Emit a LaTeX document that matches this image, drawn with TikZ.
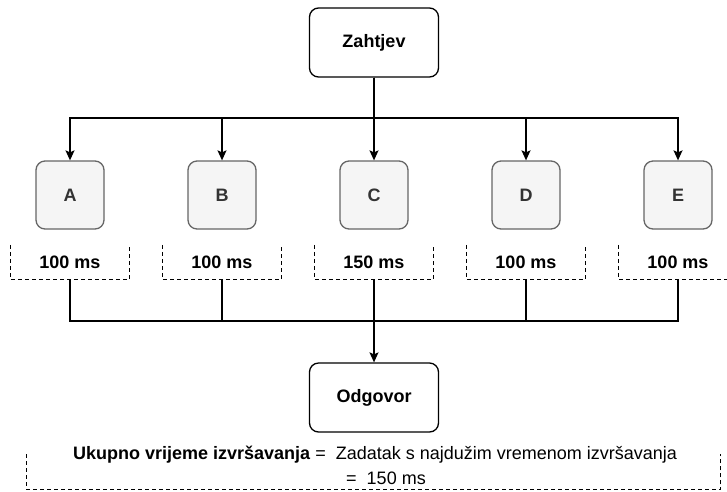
\documentclass[tikz,border=0pt]{standalone}
\usepackage{fontspec}
\setmainfont{Liberation Sans}
\usetikzlibrary{arrows.meta,positioning}
\definecolor{taskfill}{HTML}{F5F5F5}
\definecolor{taskline}{HTML}{666666}
\definecolor{tasktext}{HTML}{333333}

\begin{document}
\begin{tikzpicture}[x=1pt,y=-1pt,line width=1.3pt,
  endbox/.style={draw,rounded corners=9pt,minimum width=129pt,minimum height=69pt,
    font=\fontsize{18}{22}\selectfont\bfseries},
  taskbox/.style={draw=taskline,fill=taskfill,text=tasktext,rounded corners=9pt,
    minimum width=68pt,minimum height=68pt,font=\fontsize{18}{22}\selectfont\bfseries},
  timebox/.style={minimum width=118pt,minimum height=33pt,font=\fontsize{18}{22}\selectfont\bfseries},
  arrow/.style={-{Stealth[length=10pt,width=9pt,inset=2pt]}},
  frame/.style={line width=1.2pt,dash pattern=on 4pt off 3pt}]
\useasboundingbox (0,0) rectangle (727,491);

\node[endbox] (zahtjev) at (374,42.5) {Zahtjev};

% tasks, their times and the fan-out from the request
\foreach \lab/\ms [count=\i from 0] in {A/100,B/100,C/150,D/100,E/100} {
  \node[taskbox] (\lab) at (70+152*\i,195) {\lab};
  \node[timebox] (time\lab) at (70+152*\i,262) {\ms\ ms};
  \draw[frame] (time\lab.north west) -- (time\lab.south west) -- (time\lab.south east) -- (time\lab.north east);
  \coordinate (split\lab) at (70+152*\i,118);
  \draw[arrow] (zahtjev.south) |- (split\lab) -- (\lab.north);
}

\node[endbox] (odgovor) at (374,397.5) {Odgovor};

% fan-in to the response
\coordinate (merge) at (374,321);
\foreach \lab in {A,B,D,E}
  \draw (time\lab.south) |- (merge);
\draw[arrow] (timeC.south) -- (odgovor.north);

% total time note
\node[minimum width=693pt,minimum height=34pt] (sumframe) at (373.5,472) {};
\draw[frame] (sumframe.north west) -- (sumframe.south west) -- (sumframe.south east) -- (sumframe.north east);
\node[align=center,font=\fontsize{18}{25}\selectfont] (sum) at (375,465.5)
  {\textbf{Ukupno vrijeme izvršavanja} =\ \ Zadatak s najdužim vremenom izvršavanja\\
   \hspace*{22pt}=\ \ 150 ms};
\end{tikzpicture}
\end{document}
